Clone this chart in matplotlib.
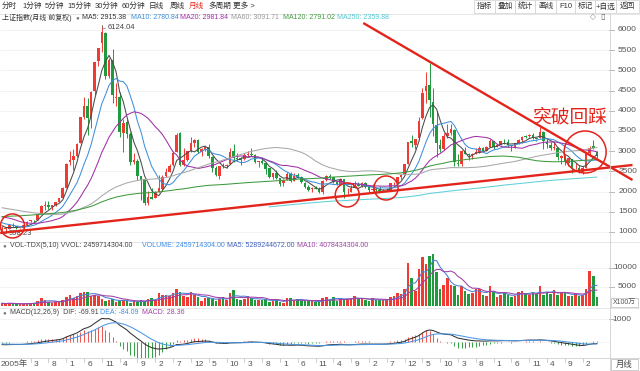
import matplotlib
matplotlib.use('Agg')
import matplotlib.pyplot as plt
import matplotlib.transforms as mtrans
import numpy as np
import pandas as pd
from matplotlib.patches import Ellipse, Rectangle
from matplotlib.lines import Line2D

plt.rcParams['font.family'] = ['Liberation Sans', 'Noto Sans CJK SC', 'DejaVu Sans']

# ---------------- data: Shanghai Composite, monthly, Jun 2005 .. May 2019 ----------------
# closes before the visible window (Dec 1990 .. May 2005), used only to warm up MA / MACD
pre_closes = [127.6,
    130.0, 133.0, 120.2, 113.9, 114.8, 137.6, 143.8, 178.4, 180.9, 218.6, 259.6, 292.8,
    313.2, 365.4, 443.5, 445.1, 1265.7, 1170.3, 1030.5, 823.3, 703.6, 507.4, 749.6, 780.4,
    1232.5, 1358.8, 925.9, 1358.7, 930.0, 1007.0, 878.8, 908.3, 900.0, 850.0, 1004.0, 833.8,
    770, 782, 615, 548, 563, 467, 333.9, 754, 1033, 680, 672, 647.9,
    562, 549, 648, 577, 700, 630, 704, 730, 722, 720, 620, 555.3,
    537, 539, 562, 700, 644, 858, 818, 843, 920, 1000, 1043, 917,
    960, 1046, 1197, 1383, 1316, 1241, 1158, 1219, 1097, 1198, 1155, 1194,
    1206, 1206, 1243, 1343, 1411, 1339, 1330, 1150, 1242, 1218, 1247, 1146,
    1134, 1091, 1158, 1120, 1279, 1689, 1601, 1627, 1556, 1514, 1424, 1367,
    1535, 1715, 1801, 1836, 1894, 1928, 2023, 2023, 1910, 1961, 2071, 2073,
    2066, 1960, 2112, 2120, 2214, 2218, 1920, 1834, 1788, 1689, 1732, 1646,
    1407, 1492, 1524, 1602, 1502, 1732, 1653, 1654, 1581, 1506, 1431, 1358,
    1500, 1512, 1510, 1521, 1576, 1487, 1476, 1421, 1367, 1348, 1397, 1497,
    1590, 1675, 1742, 1595, 1555, 1399, 1386, 1342, 1396, 1320, 1341, 1266,
    1192, 1306, 1181, 1159, 1061]

opens = [1061, 1080, 1083, 1162, 1155, 1092, 1099,
    1163, 1261, 1299, 1300, 1447, 1642, 1673, 1612, 1660, 1754, 1838, 2100,
    2728, 2783, 2881, 3196, 3850, 4115, 3809, 4479, 5222, 5683, 5915, 4868,
    5265, 4320, 4330, 3461, 3723, 3428, 2741, 2763, 2384, 2302, 1719, 1868,
    1849, 1997, 2073, 2386, 2480, 2654, 2990, 3438, 2657, 2789, 3003, 3197,
    3289, 2973, 3048, 3110, 2868, 2587, 2398, 2641, 2637, 2677, 2996, 2830,
    2825, 2798, 2918, 2937, 2910, 2741, 2767, 2700, 2572, 2363, 2470, 2336,
    2212, 2287, 2429, 2262, 2400, 2371, 2223, 2102, 2052, 2085, 2072, 1980,
    2289, 2389, 2360, 2240, 2175, 2305, 1979, 1997, 2100, 2179, 2146, 2215,
    2113, 2047, 2062, 2036, 2029, 2035, 2050, 2202, 2219, 2365, 2421, 2690,
    3258, 3160, 3332, 3810, 4478, 4633, 4214, 3643, 3157, 3052, 3380, 3440,
    3536, 2711, 2690, 3000, 2933, 2911, 2932, 2967, 3088, 3006, 3108, 3244,
    3105, 3164, 3236, 3223, 3147, 3103, 3192, 3276, 3365, 3374, 3395, 3313,
    3315, 3478, 3236, 3164, 3076, 3084, 2841, 2882, 2719, 2796, 2583, 2587,
    2497, 2587, 2954, 3120, 2990]
highs = [1147, 1112, 1194, 1223, 1156, 1104, 1178,
    1262, 1306, 1306, 1445, 1678, 1757, 1757, 1659, 1753, 1842, 2103, 2698,
    2994, 3050, 3198, 3848, 4335, 4311, 4478, 5219, 5562, 6124.04, 5955, 5303,
    5523, 4696, 4472, 3786, 3786, 3470, 2952, 2800, 2384, 2302, 2015, 2100,
    2011, 2402, 2406, 2580, 2688, 2995, 3454, 3478, 3068, 3008, 3361, 3300,
    3306, 3071, 3126, 3181, 2876, 2636, 2637, 2707, 2685, 3068, 3187, 2948,
    2862, 2944, 3013, 3067, 2922, 2766, 2827, 2717, 2578, 2471, 2536, 2339,
    2319, 2478, 2476, 2454, 2454, 2383, 2234, 2166, 2103, 2138, 2103, 2276,
    2399, 2445, 2371, 2265, 2334, 2315, 2092, 2152, 2270, 2242, 2245, 2243,
    2118, 2177, 2086, 2146, 2063, 2079, 2223, 2248, 2365, 2431, 2683, 3239,
    3406, 3312, 3836, 4572, 4959, 5178, 4572, 4006, 3293, 3459, 3679, 3685,
    3539, 2933, 3018, 3097, 2945, 2967, 3070, 3140, 3096, 3131, 3301, 3250,
    3174, 3262, 3302, 3295, 3156, 3194, 3297, 3377, 3391, 3419, 3451, 3314,
    3587, 3496, 3334, 3220, 3220, 3112, 2915, 2895, 2828, 2796, 2703, 2649,
    2631, 2948, 3130, 3288, 2995]
lows = [998.23, 1004, 1079, 1130, 1067, 1074, 1091,
    1161, 1245, 1257, 1297, 1444, 1541, 1561, 1541, 1638, 1744, 1834, 2084,
    2654, 2538, 2861, 3196, 3790, 3404, 3563, 4403, 5118, 5462, 4778, 4812,
    4196, 4124, 3357, 2990, 3333, 2655, 2691, 2284, 1802, 1665, 1679, 1814,
    1845, 1994, 2038, 2349, 2480, 2622, 2975, 2639, 2640, 2768, 2985, 3107,
    2963, 2890, 2994, 2820, 2481, 2382, 2319, 2596, 2573, 2677, 2744, 2773,
    2661, 2774, 2861, 2870, 2710, 2610, 2690, 2437, 2326, 2307, 2308, 2134,
    2132, 2277, 2242, 2254, 2327, 2212, 2097, 2027, 1999, 2063, 1959, 1949,
    2264, 2300, 2207, 2161, 2167, 1849, 1951, 1987, 2094, 2132, 2120, 2086,
    1984, 2026, 1974, 2016, 1992, 2010, 2034, 2172, 2210, 2315, 2405, 2673,
    3095, 3050, 3281, 3787, 4198, 3847, 3373, 2851, 2983, 3039, 3327, 3410,
    2639, 2638, 2634, 2920, 2781, 2807, 2932, 2953, 2969, 3006, 3092, 3044,
    3095, 3141, 3180, 3096, 3016, 3081, 3166, 3198, 3318, 3342, 3305, 3254,
    3315, 3062, 3091, 3041, 3041, 2782, 2691, 2653, 2644, 2449, 2566, 2464,
    2441, 2572, 2925, 3050, 2838]
closes = [1080.9, 1083.0, 1162.8, 1155.6, 1092.8, 1099.3, 1161.1,
    1258.0, 1299.0, 1298.3, 1440.2, 1641.3, 1672.2, 1612.7, 1658.6, 1752.4, 1837.9, 2099.3, 2675.5,
    2786.3, 2881.1, 3183.9, 3841.3, 4109.7, 3820.7, 4471.0, 5218.8, 5552.3, 5954.8, 4871.8, 5261.6,
    4383.4, 4348.5, 3472.7, 3693.1, 3433.4, 2736.1, 2775.7, 2397.4, 2293.8, 1728.8, 1871.2, 1820.8,
    1990.7, 2082.9, 2373.2, 2477.6, 2632.9, 2959.4, 3412.1, 2667.7, 2779.4, 2995.9, 3195.3, 3277.1,
    2989.3, 3051.9, 3109.1, 2870.6, 2592.2, 2398.4, 2637.5, 2638.8, 2655.7, 2978.8, 2820.2, 2808.1,
    2790.7, 2905.1, 2928.1, 2911.5, 2743.5, 2762.1, 2701.7, 2567.3, 2359.2, 2468.3, 2333.4, 2199.4,
    2292.6, 2428.5, 2262.8, 2396.3, 2372.2, 2225.4, 2103.6, 2047.5, 2086.2, 2068.9, 1980.1, 2269.1,
    2385.4, 2365.6, 2236.6, 2177.9, 2301.0, 1979.2, 1993.8, 2098.4, 2174.7, 2141.6, 2220.5, 2116.0,
    2033.1, 2056.3, 2033.3, 2026.4, 2039.2, 2048.3, 2201.6, 2217.2, 2363.9, 2420.2, 2682.8, 3234.7,
    3210.4, 3310.3, 3747.9, 4441.7, 4611.7, 4277.2, 3663.7, 3206.0, 3052.8, 3382.6, 3445.4, 3539.2,
    2737.6, 2688.0, 3003.9, 2938.3, 2916.6, 2929.6, 2979.3, 3085.5, 3004.7, 3100.5, 3250.0, 3103.6,
    3159.2, 3241.7, 3222.5, 3154.7, 3117.2, 3192.4, 3273.0, 3360.8, 3348.9, 3393.3, 3317.2, 3307.2,
    3480.8, 3259.4, 3168.9, 3082.2, 3095.5, 2847.4, 2876.4, 2725.3, 2821.4, 2602.8, 2588.2, 2493.9,
    2584.6, 2941.0, 3090.8, 3078.3, 2882.3]
volumes = [700, 600, 800, 650, 450, 400, 600,
    700, 900, 800, 1400, 2000, 1500, 1100, 800, 1100, 1000, 1700, 2400,
    3000, 2000, 2700, 3500, 3700, 3600, 2500, 3000, 2600, 1800, 1300, 1600,
    1900, 1100, 1400, 1500, 1400, 900, 1300, 1000, 1500, 1300, 1900, 2100,
    1500, 3300, 3000, 3000, 2500, 3300, 4600, 3700, 2600, 2300, 3800, 2900,
    2400, 1300, 2100, 2200, 1900, 1400, 1800, 2400, 1600, 3300, 4200, 1900,
    1700, 1900, 2500, 2000, 1500, 1500, 1700, 1800, 1100, 1300, 1700, 1100,
    800, 2000, 2000, 1600, 1900, 1200, 1300, 1300, 1200, 1100, 1000, 2000,
    2400, 1700, 2400, 1300, 2100, 1800, 1900, 2000, 2700, 1800, 1800, 1500,
    1300, 2000, 1600, 1500, 1500, 1500, 2300, 2600, 3400, 3200, 4600, 11300,
    7300, 3900, 9600, 12900, 11000, 13100, 13600, 9000, 4400, 5500, 7300, 5500,
    5300, 2900, 5300, 3900, 3200, 3500, 4400, 4400, 2800, 2600, 5300, 3600,
    2400, 2900, 3400, 3000, 2400, 2600, 3800, 4000, 3300, 2900, 3600, 3100,
    5200, 3000, 3600, 3200, 4200, 3000, 3600, 3300, 2600, 2700, 3400, 2500,
    3000, 4400, 9200, 7900, 2460]

price_ticks = [1000, 1500, 2000, 2500, 3000, 3500, 4000, 4500, 5000, 5500, 6000]
vol_ticks = [5000, 10000]
macd_ticks = [1000]
month_labels = ["3", "8", "1", "6", "11", "4", "9", "2", "7", "12", "5", "10", "3", "8", "1", "6",
                "11", "4", "9", "2", "7", "12", "5", "10", "3", "8", "1", "6", "11", "4", "9", "2"]
month_label_idx = list(range(9, 165, 5))
first_label = "2005年"

ma_periods = [5, 10, 20, 60, 120, 250]
ma_colors = ['#4a4a4a', '#3f8fdc', '#a22fa8', '#a8a8a8', '#3f9a3f', '#5fd0d8']

# hand-drawn annotations (bar index, price)
support_line = ([-0.55, 177.0], [975, 2658])
resist_line = ([101.4, 177.0], [6173, 2287])
circles = [(2.9, 1149, 12), (96.9, 1916, 12), (107.8, 2089, 12), (163.7, 2980, 21)]  # idx, value, radius px
note_text = "突破回踩"
note_pos = (159.5, 3846)

RED = '#f03b35'
GREEN = '#1f9a3c'
ANNO = '#e3241b'

# ---------------- computations ----------------
n = len(closes)
off = len(pre_closes)
allc = pd.Series(pre_closes + closes, dtype=float)
mas = [allc.rolling(p).mean().values[off:] for p in ma_periods]
ema12 = allc.ewm(span=12, adjust=False).mean()
ema26 = allc.ewm(span=26, adjust=False).mean()
dif = ema12 - ema26
dea = dif.ewm(span=9, adjust=False).mean()
hist = (2 * (dif - dea)).values[off:]
dif = dif.values[off:]
dea = dea.values[off:]
vol = np.array(volumes, dtype=float)
vma5 = pd.Series(vol).rolling(5, min_periods=1).mean().values
vma10 = pd.Series(vol).rolling(10, min_periods=1).mean().values

o = np.array(opens, float); h = np.array(highs, float)
l = np.array(lows, float); c = np.array(closes, float)
x = np.arange(n)
up = c >= o
cols = np.where(up, RED, GREEN)

# ---------------- figure ----------------
W, H = 640, 371
fig = plt.figure(figsize=(6.4, 3.71), dpi=100)
fig.patch.set_facecolor('white')

def fx(px): return px / W
def fy(py): return 1 - py / H
def axes_px(lft, top, rgt, bot):
    a = fig.add_axes([fx(lft), fy(bot), (rgt - lft) / W, (bot - top) / H])
    a.set_axis_off()
    return a
def hline(y, x1=0, x2=640, color='#dcdcdc', lw=0.6):
    fig.add_artist(Line2D([fx(x1), fx(x2)], [fy(y), fy(y)], transform=fig.transFigure, color=color, lw=lw))

XL = (-0.6, 170.4)
PLOT_R = 609

# main price panel
ax = axes_px(0, 22, PLOT_R, 241)
ax.set_xlim(*XL); ax.set_ylim(777, 6198)
for v in price_ticks:
    ax.axhline(v, color='#efefef', lw=0.5, zorder=0)
ax.vlines(x, l, h, colors=cols, lw=0.7, zorder=2)
ax.bar(x, np.maximum(np.abs(c - o), 10), bottom=np.minimum(o, c), width=0.72,
       color=cols, linewidth=0, zorder=3)
for m, colr in zip(mas, ma_colors):
    ax.plot(x, m, color=colr, lw=0.75, zorder=4)

imax = int(np.argmax(h)); imin = int(np.argmin(l))
ax.annotate(f"{h[imax]:.2f}", xy=(imax, h[imax]), xytext=(4, -2), textcoords='offset points',
            fontsize=5.5, color='#444', va='center', ha='left',
            arrowprops=dict(arrowstyle='-', color='#777', lw=0.5, shrinkA=0, shrinkB=0,
                            connectionstyle='angle,angleA=0,angleB=90,rad=0'))
ax.annotate(f"{l[imin]:.2f}", xy=(imin, l[imin]), xytext=(5, -1), textcoords='offset points',
            fontsize=5.5, color='#444', va='center', ha='left',
            arrowprops=dict(arrowstyle='-', color='#777', lw=0.5, shrinkA=0, shrinkB=0,
                            connectionstyle='angle,angleA=0,angleB=90,rad=0'))

# annotations
ax.plot(*support_line, color=ANNO, lw=1.7, clip_on=False, zorder=6, solid_capstyle='butt')
ax.plot(*resist_line, color=ANNO, lw=1.7, clip_on=False, zorder=6, solid_capstyle='butt')
ppi = PLOT_R / (XL[1] - XL[0])
ppv = (241 - 22) / (6198 - 777)
for cx, cy, r in circles:
    ax.add_patch(Ellipse((cx, cy), 2 * r / ppi, 2 * r / ppv, fill=False, edgecolor=ANNO,
                         lw=1.1, clip_on=False, zorder=7))
ax.text(*note_pos, note_text, color=ANNO, fontsize=13.5, ha='center', va='center',
        family=['Noto Sans CJK SC'], zorder=7)

bt = mtrans.blended_transform_factory(ax.transAxes, ax.transData)
for v in price_ticks:
    ax.text(637 / PLOT_R, v, str(v), transform=bt, ha='right', va='center', fontsize=6,
            color='#555', clip_on=False)
    ax.plot([1.0, 614 / PLOT_R], [v, v], transform=bt, color='#aaa', lw=0.6, clip_on=False)

# volume panel
av = axes_px(0, 250, PLOT_R, 307)
av.set_xlim(*XL); av.set_ylim(-263, 14728)
for v in vol_ticks:
    av.axhline(v, color='#efefef', lw=0.5, zorder=0)
av.bar(x, vol, width=0.72, color=cols, linewidth=0, zorder=2)
av.plot(x, vma5, color='#4a7fd4', lw=0.75, zorder=3)
av.plot(x, vma10, color='#a040a8', lw=0.75, zorder=3)
btv = mtrans.blended_transform_factory(av.transAxes, av.transData)
for v in vol_ticks:
    av.text(637 / PLOT_R, v, str(v), transform=btv, ha='right', va='center', fontsize=6,
            color='#555', clip_on=False)
    av.plot([1.0, 614 / PLOT_R], [v, v], transform=btv, color='#aaa', lw=0.6, clip_on=False)

# MACD panel
am = axes_px(0, 307, PLOT_R, 358)
am.set_xlim(*XL); am.set_ylim(-696, 1522)
am.axhline(0, color='#d8d8d8', lw=0.5, ls=(0, (1, 1.5)), zorder=0)
for v in macd_ticks:
    am.axhline(v, color='#efefef', lw=0.5, zorder=0)
am.vlines(x, 0, hist, colors=np.where(hist >= 0, '#ec5a55', '#3aa04a'), lw=0.75, zorder=2)
am.plot(x, dif, color='#333333', lw=0.75, zorder=3)
am.plot(x, dea, color='#4b97e6', lw=0.75, zorder=3)
btm = mtrans.blended_transform_factory(am.transAxes, am.transData)
for v in macd_ticks:
    am.text(631 / PLOT_R, v, str(v), transform=btm, ha='right', va='center', fontsize=6,
            color='#555', clip_on=False)
    am.plot([1.0, 614 / PLOT_R], [v, v], transform=btm, color='#aaa', lw=0.6, clip_on=False)

# x axis labels
btx = mtrans.blended_transform_factory(am.transData, fig.transFigure)
am.text(XL[0] + 0.3, fy(364), first_label, transform=btx, ha='left', va='center', fontsize=6,
        color='#555', clip_on=False)
for idx, lab in zip(month_label_idx, month_labels):
    am.plot([idx - 1, idx - 1], [fy(358), fy(362)], transform=btx, color='#bbb', lw=0.5, clip_on=False)
    am.text(idx - 0.1, fy(364), lab, transform=btx, ha='left', va='center', fontsize=6,
            color='#555', clip_on=False)

# separators
hline(13.5, color='#e2e2e2')
hline(241.5, color='#e2e2e2')
hline(307.5, x1=0, x2=640, color='#e2e2e2')
hline(357.5, color='#d0d0d0')
fig.add_artist(Line2D([fx(609.5), fx(609.5)], [fy(14), fy(371)], transform=fig.transFigure,
                      color='#cfcfcf', lw=0.6))

# toolbar
def ftext(px, py, s, color='#333', size=5.5, ha='left', **kw):
    fig.text(fx(px), fy(py), s, color=color, fontsize=size, ha=ha, va='center', **kw)

tabs = [(2, "分时"), (22, "1分钟"), (45, "5分钟"), (67, "15分钟"), (95, "30分钟"), (122, "60分钟"),
        (149, "日线"), (170, "周线"), (189, "月线"), (208, "多周期"), (233, "更多 >")]
for px, s in tabs:
    ftext(px, 6.5, s, color=ANNO if s == "月线" else '#333')
buttons = [(474, 495, "指标"), (495, 515, "叠加"), (515, 535, "统计"), (535, 556, "画线"),
           (556, 575, "F10"), (575, 595, "标记"), (595, 616, "+自选"), (616, 639, "返回")]
for x1, x2, s in buttons:
    fig.add_artist(Rectangle((fx(x1), fy(13)), (x2 - x1) / W, 13 / H, transform=fig.transFigure,
                             facecolor='white', edgecolor='#d0d0d0', lw=0.5))
    ftext((x1 + x2) / 2, 6.5, s, ha='center')

# info rows
ftext(2, 17.5, "上证指数(月线 前复权)", size=5)
ftext(77, 17.5, "●", color='#777', size=4.5, ha='center')
row2 = [(82, "MA5: 2915.38", '#333'), (131, "MA10: 2780.84", '#3f8fdc'),
        (180, "MA20: 2981.84", '#a22fa8'), (231, "MA60: 3091.71", '#999'),
        (283, "MA120: 2791.02", '#3f9a3f'), (337, "MA250: 2359.88", '#4fc8d2')]
for px, s, colr in row2:
    ftext(px, 17.5, s, color=colr, size=5)
ftext(593, 17, "◇", color='#888', size=5.5, ha='center', family=['DejaVu Sans'])
ftext(603, 17, "▯", color='#666', size=6, ha='center', family=['DejaVu Sans'])

ftext(4, 245.5, "●", color='#777', size=4.5, ha='center')
ftext(10, 245.5, "VOL-TDX(5,10) VVOL: 2459714304.00", color='#444', size=5)
ftext(142, 245.5, "VOLUME: 2459714304.00", color='#3c8ce6', size=5)
ftext(227, 245.5, "MA5: 5289244672.00", color='#3f5fbf', size=5)
ftext(297, 245.5, "MA10: 4078434304.00", color='#a040a8', size=5)

ftext(4, 312.5, "●", color='#777', size=4.5, ha='center')
ftext(10, 312.5, "MACD(12,26,9)  DIF: -69.91", color='#444', size=5)
ftext(100, 312.5, "DEA: -84.09", color='#3c8ce6', size=5)
ftext(142, 312.5, "MACD: 28.36", color='#a040a8', size=5)

# unit / period boxes
fig.add_artist(Rectangle((fx(611), fy(307)), 27 / W, 9 / H, transform=fig.transFigure,
                         facecolor='white', edgecolor='#bbb', lw=0.5))
ftext(624.5, 302.5, "X100万", color='#555', size=5, ha='center')
fig.add_artist(Rectangle((fx(611), fy(370)), 27 / W, 11 / H, transform=fig.transFigure,
                         facecolor='white', edgecolor='#bbb', lw=0.5))
ftext(624.5, 364.5, "月线", color='#444', size=6, ha='center')

fig.savefig('out.png', dpi=100, facecolor='white')
